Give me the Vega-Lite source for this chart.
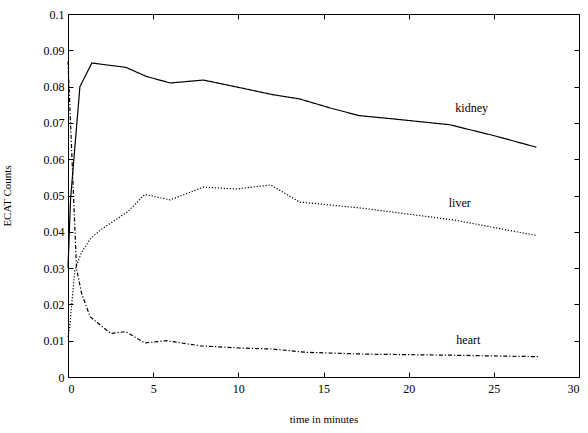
{
  "$schema": "https://vega.github.io/schema/vega-lite/v6.json",
  "autosize": "none",
  "width": 511,
  "height": 363,
  "padding": {"left": 68, "top": 14, "right": 9, "bottom": 56},
  "background": "white",
  "config": {
    "view": {"stroke": "black", "strokeWidth": 1},
    "font": "Liberation Serif",
    "axis": {"grid": false, "domain": false, "tickColor": "black", "labelColor": "black", "titleColor": "black", "labelFont": "Liberation Serif", "titleFont": "Liberation Serif", "labelFontSize": 12, "titleFontSize": 11, "titleFontWeight": "normal", "tickSize": -5, "labelPadding": 9}
  },
  "datasets": {
    "series": [
      {"organ": "kidney", "t": 0, "v": 0.030},
      {"organ": "kidney", "t": 0.15, "v": 0.049},
      {"organ": "kidney", "t": 0.7, "v": 0.080},
      {"organ": "kidney", "t": 1.4, "v": 0.0865},
      {"organ": "kidney", "t": 3.4, "v": 0.0853},
      {"organ": "kidney", "t": 4.6, "v": 0.0828},
      {"organ": "kidney", "t": 6.0, "v": 0.081},
      {"organ": "kidney", "t": 7.95, "v": 0.0818},
      {"organ": "kidney", "t": 10.0, "v": 0.0798},
      {"organ": "kidney", "t": 12.0, "v": 0.0778},
      {"organ": "kidney", "t": 13.6, "v": 0.0766},
      {"organ": "kidney", "t": 15.4, "v": 0.0741},
      {"organ": "kidney", "t": 17.1, "v": 0.0720},
      {"organ": "kidney", "t": 19.1, "v": 0.0711},
      {"organ": "kidney", "t": 22.4, "v": 0.0695},
      {"organ": "kidney", "t": 25.0, "v": 0.0665},
      {"organ": "kidney", "t": 27.5, "v": 0.0633},
      {"organ": "liver", "t": 0, "v": 0.011},
      {"organ": "liver", "t": 0.1, "v": 0.0138},
      {"organ": "liver", "t": 0.4, "v": 0.0294},
      {"organ": "liver", "t": 0.8, "v": 0.0344},
      {"organ": "liver", "t": 1.3, "v": 0.038},
      {"organ": "liver", "t": 1.9, "v": 0.0405},
      {"organ": "liver", "t": 3.5, "v": 0.0455},
      {"organ": "liver", "t": 4.5, "v": 0.0503},
      {"organ": "liver", "t": 6.0, "v": 0.0488},
      {"organ": "liver", "t": 7.95, "v": 0.0523},
      {"organ": "liver", "t": 9.9, "v": 0.0518},
      {"organ": "liver", "t": 11.9, "v": 0.0529},
      {"organ": "liver", "t": 13.6, "v": 0.0482},
      {"organ": "liver", "t": 17.1, "v": 0.0466},
      {"organ": "liver", "t": 22.6, "v": 0.0433},
      {"organ": "liver", "t": 27.5, "v": 0.0390},
      {"organ": "heart", "t": 0, "v": 0.087},
      {"organ": "heart", "t": 0.5, "v": 0.0299},
      {"organ": "heart", "t": 0.8, "v": 0.023},
      {"organ": "heart", "t": 1.3, "v": 0.0166},
      {"organ": "heart", "t": 2.5, "v": 0.012},
      {"organ": "heart", "t": 3.4, "v": 0.0125},
      {"organ": "heart", "t": 4.5, "v": 0.0094},
      {"organ": "heart", "t": 5.8, "v": 0.0100},
      {"organ": "heart", "t": 7.75, "v": 0.0086},
      {"organ": "heart", "t": 10.0, "v": 0.0080},
      {"organ": "heart", "t": 12.0, "v": 0.0077},
      {"organ": "heart", "t": 14.0, "v": 0.0068},
      {"organ": "heart", "t": 17.5, "v": 0.0063},
      {"organ": "heart", "t": 22.5, "v": 0.0060},
      {"organ": "heart", "t": 27.6, "v": 0.0056}
    ],
    "labels": [
      {"label": "kidney", "t": 23.7, "v": 0.0742},
      {"label": "liver", "t": 23.0, "v": 0.0479},
      {"label": "heart", "t": 23.5, "v": 0.0102}
    ]
  },
  "resolve": {"axis": {"x": "independent", "y": "independent"}},
  "layer": [
    {
      "data": {"name": "series"},
      "mark": {"type": "line", "color": "black", "strokeWidth": 1.2},
      "encoding": {
        "x": {"field": "t", "type": "quantitative", "scale": {"domain": [0, 30], "nice": false, "zero": false},
              "axis": {"orient": "bottom", "values": [0, 5, 10, 15, 20, 25, 30], "title": "time in minutes", "titlePadding": 19, "labelPadding": 11}},
        "y": {"field": "v", "type": "quantitative", "scale": {"domain": [0, 0.1], "nice": false},
              "axis": {"orient": "left", "values": [0, 0.01, 0.02, 0.03, 0.04, 0.05, 0.06, 0.07, 0.08, 0.09, 0.1], "format": "~g", "title": "ECAT Counts", "titlePadding": 31}},
        "detail": {"field": "organ"},
        "strokeDash": {"field": "organ", "type": "nominal", "legend": null,
                       "scale": {"domain": ["kidney", "liver", "heart"], "range": [[1, 0], [1.2, 1.8], [4, 2, 1.2, 2]]}},
        "strokeWidth": {"field": "organ", "type": "nominal", "legend": null,
                        "scale": {"domain": ["kidney", "liver", "heart"], "range": [1.5, 1, 1.3]}}
      }
    },
    {
      "data": {"name": "labels"},
      "mark": {"type": "text", "font": "Liberation Serif", "fontSize": 12, "color": "black", "align": "center", "baseline": "middle"},
      "encoding": {
        "x": {"field": "t", "type": "quantitative", "axis": {"orient": "top", "values": [0, 5, 10, 15, 20, 25, 30], "labels": false, "title": null}},
        "y": {"field": "v", "type": "quantitative", "axis": {"orient": "right", "values": [0, 0.01, 0.02, 0.03, 0.04, 0.05, 0.06, 0.07, 0.08, 0.09, 0.1], "labels": false, "title": null}},
        "text": {"field": "label"}
      }
    }
  ]
}
